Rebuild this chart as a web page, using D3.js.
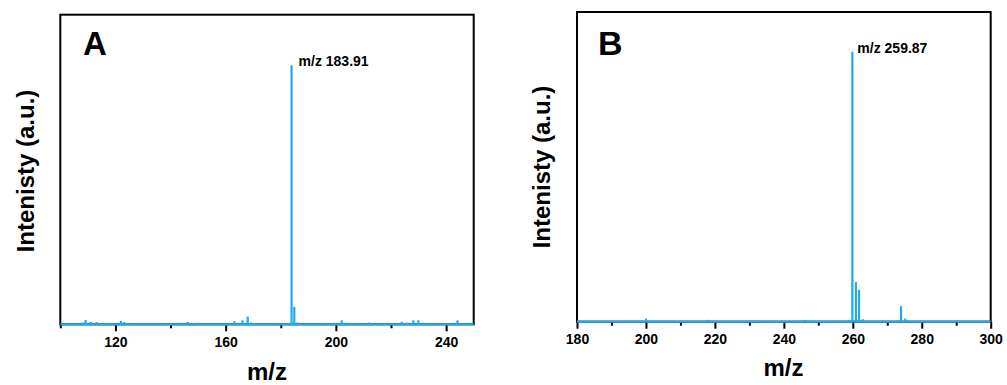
<!DOCTYPE html>
<html><head><meta charset="utf-8">
<script src="https://cdn.jsdelivr.net/npm/d3@7"></script>
<style>
body{margin:0;background:#fff;}
text{font-family:Arial,"Liberation Sans",sans-serif;font-weight:bold;fill:#000;}
</style></head>
<body><svg id="c" width="1007" height="385"></svg>
<script>
// Panel A data (m/z, relative intensity)
const mzA = [108.1,109.2,111.0,113.2,117.2,122.0,123.1,129.3,131.5,135.0,146.2,150.1,161.0,163.2,166.1,168.0,169.2,170.4,178.9,183.91,184.9,186.1,195.2,202.1,204.0,206.1,212.2,217.9,223.9,226.0,228.1,229.9,231.8,236.4,244.1];
const intA = [0.6,1.4,0.8,0.7,0.4,1.1,0.7,0.4,0.5,0.4,0.8,0.5,0.4,1.0,1.3,2.5,0.6,0.4,0.4,83.7,5.6,0.6,0.4,1.3,0.5,0.4,0.6,0.3,0.8,0.6,1.3,1.3,0.5,0.3,1.3];
// Panel B data
const mzB = [194.0,200.0,218.1,230.2,232.2,246.2,258.9,259.87,260.9,261.8,262.9,274.0,275.2,275.7,290.0];
const intB = [0.3,1.0,0.6,0.3,0.4,0.6,0.6,87.2,12.8,10.3,0.8,5.0,1.0,0.4,0.4];

const ticksA = [120,160,200,240];
const minorA = [100,140,180,220];
const ticksB = [180,200,220,240,260,280,300];
const minorB = [190,210,230,250,270,290];

const panels = [
  {letter:"A", mz:mzA, it:intA, dom:[100,250], ticks:ticksA, minor:minorA,
   l:60.3, r:473.7, t:14.7, b:324.3, peak:183.91, ann:"m/z 183.91",
   letterX:83, letterY:55, letterSize:33, annDx:7, annY:66, ylabX:33.5, ylabY:171, xlabX:267, xlabY:380, tickY:346.7},
  {letter:"B", mz:mzB, it:intB, dom:[180,300], ticks:ticksB, minor:minorB,
   l:577, r:990.7, t:12, b:321.7, peak:259.87, ann:"m/z 259.87",
   letterX:598, letterY:55, letterSize:34, annDx:5, annY:52.7, ylabX:550, ylabY:167, xlabX:783.5, xlabY:376, tickY:344}
];

const svg = d3.select("#c");
const blue = "#21a9f0";

panels.forEach(p => {
  const x = d3.scaleLinear().domain(p.dom).range([p.l, p.r]);
  const y = d3.scaleLinear().domain([0,100]).range([p.b, p.t]);
  const g = svg.append("g");

  // frame
  g.append("rect").attr("x",p.l).attr("y",p.t).attr("width",p.r-p.l).attr("height",p.b-p.t)
    .attr("fill","none").attr("stroke","#000").attr("stroke-width",2);

  // major ticks via axis
  const ax = d3.axisBottom(x).tickValues(p.ticks).tickSize(7).tickPadding(0).tickFormat(d3.format("d"));
  const axg = g.append("g").attr("transform",`translate(0,${p.b})`).call(ax);
  axg.select(".domain").remove();
  axg.selectAll(".tick line").attr("stroke","#000").attr("stroke-width",2);
  axg.selectAll(".tick text").attr("y", p.tickY - p.b).attr("dy",null)
    .style("font-size","14px").style("font-family","Arial, 'Liberation Sans', sans-serif").style("font-weight","bold").attr("fill","#000");
  // minor ticks
  const axm = d3.axisBottom(x).tickValues(p.minor).tickSize(4).tickFormat("");
  const amg = g.append("g").attr("transform",`translate(0,${p.b})`).call(axm);
  amg.select(".domain").remove();
  amg.selectAll(".tick line").attr("stroke","#000").attr("stroke-width",2);

  // spectrum baseline
  g.append("line").attr("x1",x(p.dom[0])).attr("x2",x(p.dom[1])).attr("y1",y(0)).attr("y2",y(0))
    .attr("stroke",blue).attr("stroke-width",2.2);
  // peaks
  g.selectAll("line.pk").data(p.mz.map((m,i)=>({m, v:p.it[i]}))).join("line").attr("class","pk")
    .attr("x1",d=>x(d.m)).attr("x2",d=>x(d.m)).attr("y1",y(0)).attr("y2",d=>y(d.v))
    .attr("stroke",blue).attr("stroke-width",2.2);

  // annotation
  const pi = p.mz.indexOf(p.peak);
  g.append("text").attr("x",x(p.peak)+p.annDx).attr("y",p.annY).style("font-size","14px").text(p.ann);
  // letter
  g.append("text").attr("x",p.letterX).attr("y",p.letterY).style("font-size",p.letterSize+"px").text(p.letter);
  // y label
  g.append("text").attr("transform",`translate(${p.ylabX},${p.ylabY}) rotate(-90)`).attr("text-anchor","middle")
    .style("font-size","24px").text("Intenisty (a.u.)");
  // x label
  g.append("text").attr("x",p.xlabX).attr("y",p.xlabY).attr("text-anchor","middle").style("font-size","24px").text("m/z");
});
</script></body></html>
